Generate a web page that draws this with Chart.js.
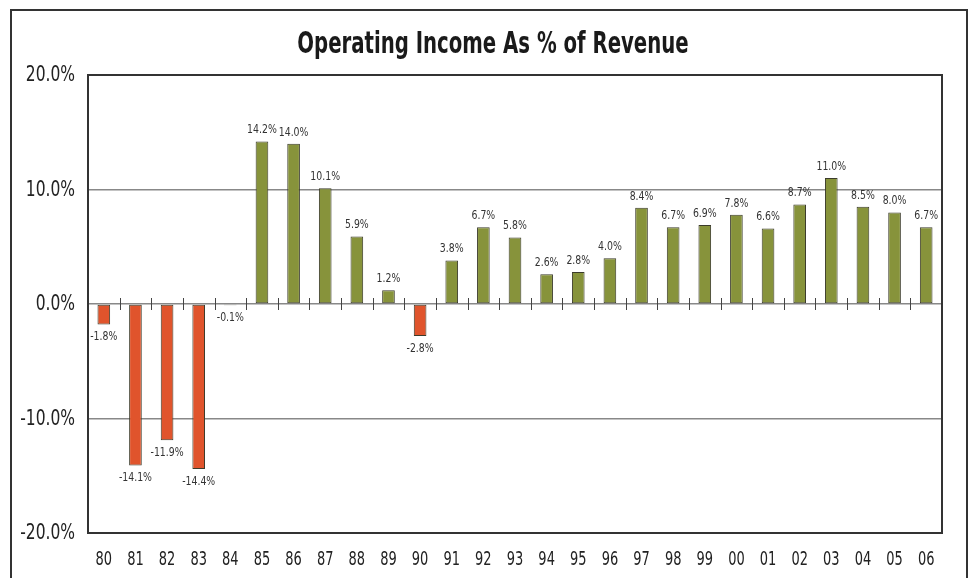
<!DOCTYPE html>
<html><head><meta charset="utf-8">
<script src="https://cdn.jsdelivr.net/npm/chart.js@4/dist/chart.umd.min.js"></script>
<style>
html,body{margin:0;padding:0;background:#fff;}
#wrap{position:relative;width:972px;height:578px;overflow:hidden;}
#frame{position:absolute;left:10px;top:9px;width:958px;height:600px;border:2px solid #333;box-sizing:border-box;pointer-events:none;}
canvas{position:absolute;left:0;top:0;}
</style></head>
<body>
<div id="wrap"><canvas id="c" width="972" height="578"></canvas><div id="frame"></div></div>
<script>
const categories = ["80","81","82","83","84","85","86","87","88","89","90","91","92","93","94","95","96","97","98","99","00","01","02","03","04","05","06"];
const values = [-1.8,-14.1,-11.9,-14.4,-0.1,14.2,14.0,10.1,5.9,1.2,-2.8,3.8,6.7,5.8,2.6,2.8,4.0,8.4,6.7,6.9,7.8,6.6,8.7,11.0,8.5,8.0,6.7];
const yTicks = [-20,-10,0,10,20];
const titleText = "Operating Income As % of Revenue";

const FONT = "'DejaVu Sans Condensed','DejaVu Sans',sans-serif";
const GREEN = '#87933b', ORANGE = '#e0542c';

function txt(ctx, s, x, y, font, sx, align, baseline, color) {
  ctx.save();
  ctx.font = font; ctx.textAlign = align; ctx.textBaseline = baseline; ctx.fillStyle = color;
  ctx.translate(x, y); ctx.scale(sx, 1); ctx.fillText(s, 0, 0);
  ctx.restore();
}

const decor = {
  id: 'decor',
  afterDatasetsDraw(chart) {
    const {ctx, chartArea: a, scales: {x, y}} = chart;
    ctx.save();
    const z = y.getPixelForValue(0);
    ctx.strokeStyle = '#444'; ctx.lineWidth = 1;
    for (let i = 0; i < categories.length - 1; i++) {
      const px = Math.round((x.getPixelForValue(i) + x.getPixelForValue(i + 1)) / 2) + 0.5;
      ctx.beginPath(); ctx.moveTo(px, z - 6); ctx.lineTo(px, z + 6); ctx.stroke();
    }
    const meta = chart.getDatasetMeta(0);
    meta.data.forEach((bar, i) => {
      const v = values[i];
      const t = v.toFixed(1) + '%';
      if (v >= 0) txt(ctx, t, bar.x, bar.y - 5, "13px " + FONT, 0.8, 'center', 'bottom', '#333');
      else txt(ctx, t, bar.x, bar.y + 6, "13px " + FONT, 0.8, 'center', 'top', '#333');
    });
    ctx.strokeStyle = '#333'; ctx.lineWidth = 2;
    ctx.strokeRect(a.left, a.top, a.right - a.left, a.bottom - a.top);
    yTicks.forEach(v => {
      txt(ctx, v.toFixed(1) + '%', a.left - 13, y.getPixelForValue(v) + 1, "21px " + FONT, 0.82, 'right', 'middle', '#222');
    });
    categories.forEach((c, i) => {
      txt(ctx, c, x.getPixelForValue(i), a.bottom + 27, "19px " + FONT, 0.76, 'center', 'middle', '#222');
    });
    txt(ctx, titleText, (chart.width) / 2 + 7, 45, "bold 30px " + FONT, 0.73, 'center', 'middle', '#1a1a1a');
    ctx.restore();
  }
};

new Chart(document.getElementById('c'), {
  type: 'bar',
  data: {
    labels: categories,
    datasets: [{
      data: values,
      backgroundColor: values.map(v => v < 0 ? ORANGE : GREEN),
      borderColor: '#3b3b2b',
      borderWidth: 1,
      borderSkipped: false,
      barPercentage: 0.8,
      categoryPercentage: 0.5
    }]
  },
  options: {
    responsive: false,
    animation: false,
    layout: { padding: { left: 0, right: 30, top: 75, bottom: 0 } },
    plugins: {
      legend: { display: false },
      tooltip: { enabled: false },
      title: { display: false }
    },
    scales: {
      x: {
        grid: { display: false },
        border: { display: false },
        ticks: { display: false },
        afterFit(s) { s.height = 45; }
      },
      y: {
        min: -20, max: 20,
        afterBuildTicks(s) { s.ticks = yTicks.map(v => ({ value: v })); },
        grid: { color: '#888', lineWidth: 1.5, drawTicks: false },
        border: { display: false },
        ticks: { display: false },
        afterFit(s) { s.width = 88; }
      }
    }
  },
  plugins: [decor]
});
</script>
</body></html>
